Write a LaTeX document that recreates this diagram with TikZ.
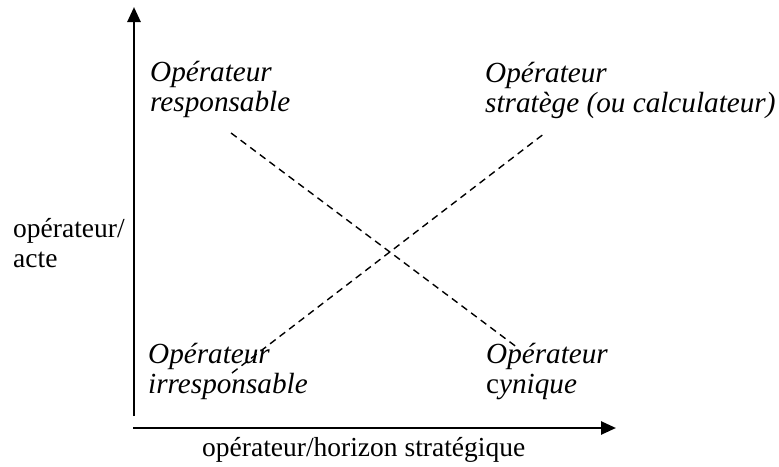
\documentclass[tikz,border=0pt]{standalone}
\usepackage{fontspec}
\setmainfont{Liberation Serif}
\usetikzlibrary{arrows.meta}
\begin{document}
\begin{tikzpicture}[x=1pt,y=-1pt,
  lbl/.style={inner sep=0pt,anchor=base west,align=left,font=\fontsize{27.5}{30}\selectfont},
  ilbl/.style={lbl,font=\fontsize{29.2}{30}\selectfont\itshape},
  axis/.style={line width=2.6pt,-{Triangle[length=15pt,width=13pt]}},
  diag/.style={line width=1.4pt,dash pattern=on 7pt off 5pt}]
\useasboundingbox (0,0) rectangle (779,466);
% axes
\coordinate (vb) at (134,416);
\coordinate (vt) at (134,7);
\coordinate (hl) at (133,428);
\coordinate (hr) at (616,428);
\draw[axis] (vb) -- (vt);
\draw[axis] (hl) -- (hr);
% labels (anchor = baseline of last line)
\node[ilbl] (tl) at (150,111) {Opérateur\\responsable};
\node[ilbl] (tr) at (485,112) {Opérateur\\stratège (ou calculateur)};
\node[ilbl] (bl) at (148,393) {Opérateur\\irresponsable};
\node[ilbl] (br) at (486,393) {Opérateur\\{\upshape c}ynique};
\node[lbl] (yl) at (13,267) {opérateur/\\acte};
\node[lbl] (xl) at (202,456) {opérateur/horizon stratégique};
% dashed diagonals
\coordinate (d1a) at (231,133);
\coordinate (d1b) at (518,348);
\coordinate (d2a) at (232,373);
\coordinate (d2b) at (545,133);
\draw[diag] (d1a) -- (d1b);
\draw[diag] (d2a) -- (d2b);
\end{tikzpicture}
\end{document}
